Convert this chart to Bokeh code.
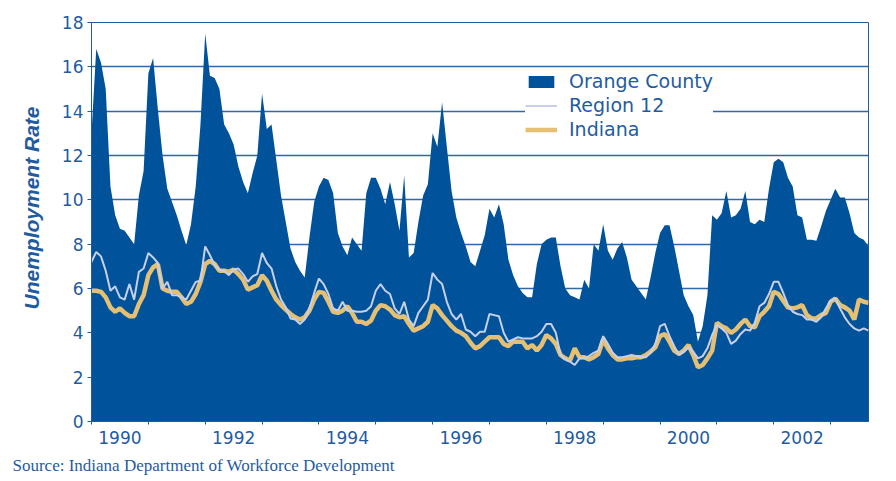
from bokeh.plotting import figure
from bokeh.models import (ColumnDataSource, FixedTicker, Legend, LegendItem, Title)
from bokeh.embed import file_html
from bokeh.resources import INLINE

# ---- data (monthly, Jan 1990 .. Sep 2003) ----
start_year = 1990
orange = [
    13.0, 16.8, 16.2, 15.0, 10.6, 9.3, 8.7, 8.6, 8.3, 8.0, 10.2, 11.3,
    15.7, 16.4, 14.1, 12.0, 10.5, 9.9, 9.3, 8.6, 7.95, 8.9, 10.6, 13.4,
    17.5, 15.6, 15.5, 15.0, 13.4, 13.0, 12.5, 11.5, 10.8, 10.3, 11.2, 12.0,
    14.8, 13.2, 13.4, 11.8, 10.2, 9.0, 7.8, 7.2, 6.8, 6.5, 8.3, 9.9,
    10.6, 11.0, 10.9, 10.3, 8.5, 7.9, 7.5, 8.3, 8.0, 7.7, 10.3, 11.0,
    11.0, 10.5, 9.8, 10.8, 9.8, 8.6, 11.1, 7.4, 7.6, 9.0, 10.2, 10.7,
    13.0, 12.4, 14.4, 12.4, 10.4, 9.2, 8.5, 7.9, 7.2, 7.0, 7.7, 8.4,
    9.6, 9.2, 9.8, 8.9, 7.3, 6.6, 6.1, 5.8, 5.6, 5.6, 7.1, 8.0,
    8.2, 8.3, 8.3, 7.0, 6.0, 5.7, 5.6, 5.5, 6.4, 6.0, 8.0, 7.7,
    8.9, 7.7, 7.3, 7.8, 8.1, 7.4, 6.4, 6.1, 5.8, 5.5, 6.5, 7.6,
    8.5, 8.85, 8.85, 7.9, 6.8, 5.7, 5.2, 4.8, 3.6, 4.3, 5.7, 9.3,
    9.1, 9.4, 10.4, 9.2, 9.3, 9.6, 10.4, 9.0, 8.9, 9.1, 9.0, 10.5,
    11.7, 11.85, 11.7, 11.0, 10.6, 9.3, 9.2, 8.2, 8.2, 8.15, 8.8, 9.5,
    10.0, 10.5, 10.1, 10.1, 9.4, 8.5, 8.3, 8.2, 7.9,
]
region12 = [
    7.2, 7.65, 7.45, 6.8, 5.9, 6.1, 5.6, 5.5, 6.2, 5.5, 6.75, 6.9,
    7.6, 7.4, 7.15, 6.0, 6.3, 5.7, 5.7, 5.6, 5.5, 5.9, 6.3, 6.35,
    7.9, 7.5, 7.05, 6.85, 6.8, 6.6, 6.85, 6.9, 6.65, 6.3, 6.55, 6.65,
    7.6, 7.15, 6.9, 6.1, 5.5, 5.15, 4.65, 4.6, 4.4, 4.6, 5.1, 5.8,
    6.45, 6.2, 5.75, 5.1, 5.0, 5.4, 5.0, 5.0, 4.95, 4.95, 5.0, 5.2,
    5.9, 6.2, 5.9, 5.75, 5.1, 4.85, 5.4, 4.6, 4.3, 4.9, 5.2, 5.5,
    6.7, 6.4, 6.2, 5.4, 4.85, 4.6, 4.85, 4.15, 4.05, 3.85, 4.05, 4.05,
    4.85, 4.8, 4.75, 4.0, 3.6, 3.7, 3.8, 3.75, 3.75, 3.75, 3.85, 4.05,
    4.4, 4.4, 4.0, 3.0, 2.8, 2.7, 2.55, 2.85, 2.85, 2.95, 3.1, 3.2,
    3.85, 3.5, 3.1, 2.9, 2.9, 2.95, 3.0, 2.95, 2.9, 2.9, 3.1, 3.5,
    4.3, 4.4, 3.85, 3.4, 3.0, 3.15, 3.35, 3.15, 2.85, 2.95, 3.3, 3.9,
    4.35, 4.2, 4.0, 3.5, 3.65, 3.95, 4.15, 4.1, 4.45, 5.2, 5.35, 5.75,
    6.3, 6.3, 5.8, 5.25, 4.95, 4.85, 4.8, 4.6, 4.6, 4.5, 4.7, 5.1,
    5.45, 5.55, 5.1, 4.7, 4.4, 4.2, 4.1, 4.2, 4.1,
]
indiana = [
    5.9, 5.9, 5.85, 5.6, 5.15, 4.95, 5.1, 4.9, 4.75, 4.75, 5.3, 5.7,
    6.6, 6.95, 7.1, 6.0, 5.9, 5.85, 5.85, 5.6, 5.3, 5.4, 5.75, 6.3,
    7.1, 7.25, 7.1, 6.8, 6.8, 6.75, 6.85, 6.65, 6.4, 5.95, 6.05, 6.15,
    6.6, 6.35, 5.9, 5.5, 5.25, 5.05, 4.85, 4.7, 4.6, 4.7, 5.0, 5.5,
    5.85, 5.8, 5.4, 4.95, 4.9, 5.0, 5.2, 4.9, 4.5, 4.5, 4.4, 4.55,
    5.0, 5.25, 5.2, 5.05, 4.8, 4.7, 4.75, 4.4, 4.1, 4.2, 4.3, 4.5,
    5.25, 5.1, 4.8, 4.55, 4.3, 4.1, 4.0, 3.85, 3.55, 3.3, 3.4, 3.6,
    3.8, 3.8, 3.8, 3.5, 3.4, 3.6, 3.6, 3.6, 3.3, 3.45, 3.2, 3.45,
    3.9, 3.75, 3.5, 3.0, 2.85, 2.75, 3.3, 2.9, 2.9, 2.8, 2.9, 3.05,
    3.7, 3.3, 3.0, 2.8, 2.8, 2.85, 2.85, 2.9, 2.9, 3.0, 3.15, 3.35,
    3.85, 3.95, 3.6, 3.2, 3.05, 3.2, 3.45, 3.0, 2.45, 2.55, 2.85, 3.2,
    4.45, 4.3, 4.2, 4.0, 4.15, 4.4, 4.6, 4.3, 4.25, 4.75, 4.95, 5.2,
    5.85, 5.75, 5.45, 5.15, 5.1, 5.15, 5.25, 4.8, 4.65, 4.65, 4.8, 4.9,
    5.4, 5.55, 5.25, 5.15, 5.0, 4.6, 5.5, 5.4, 5.35,
]
year_ticks = list(range(1990, 2004))
label_years = [1990, 1992, 1994, 1996, 1998, 2000, 2002]
y_ticks = [0, 2, 4, 6, 8, 10, 12, 14, 16, 18]

BLUE = "#00539b"
TEXT = "#1f5c9f"
GRID = "#2f68a6"
REGION = "#c8cfe9"
GOLD = "#e5c072"

x = [start_year + i / 12 for i in range(len(orange))]
src = ColumnDataSource(dict(x=x, orange=orange, region=region12, indiana=indiana))

p = figure(width=896, height=481, output_backend="svg", toolbar_location=None,
           x_range=(x[0], x[-1]), y_range=(0, 18),
           min_border_left=91, min_border_right=28, min_border_top=22,
           min_border_bottom=59)
p.background_fill_color = "white"
p.border_fill_color = "white"
p.outline_line_color = TEXT
p.outline_line_width = 1

area = p.varea(x="x", y1=0, y2="orange", source=src, fill_color=BLUE)
ind = p.line(x="x", y="indiana", source=src, line_color=GOLD, line_width=4.5)
reg = p.line(x="x", y="region", source=src, line_color=REGION, line_width=2)

# axes
p.xgrid.visible = False
p.ygrid.ticker = FixedTicker(ticks=y_ticks)
p.ygrid.grid_line_color = GRID
p.ygrid.grid_line_width = 1.3

xa = p.xaxis[0]
xa.ticker = FixedTicker(ticks=[yv + 0.5 for yv in label_years], minor_ticks=year_ticks)
xa.major_label_overrides = {yv + 0.5: str(yv) for yv in label_years}
xa.major_tick_out = 0
xa.major_tick_in = 0
xa.minor_tick_out = 3
xa.minor_tick_in = 0
xa.minor_tick_line_color = TEXT
xa.axis_line_color = TEXT
xa.major_label_text_font = "DejaVu Sans"
xa.major_label_text_font_size = "17px"
xa.major_label_text_color = TEXT
xa.major_label_standoff = 6

ya = p.yaxis[0]
ya.ticker = FixedTicker(ticks=y_ticks)
ya.major_tick_out = 4
ya.major_tick_in = 0
ya.minor_tick_line_color = None
ya.major_tick_line_color = TEXT
ya.axis_line_color = TEXT
ya.major_label_text_font = "DejaVu Sans"
ya.major_label_text_font_size = "17px"
ya.major_label_text_color = TEXT
ya.major_label_standoff = 4

ytitle = Title(text="Unemployment Rate", align="left", offset=112, standoff=32,
               text_font="Liberation Sans", text_font_style="bold italic",
               text_font_size="21px", text_color=TEXT)
p.add_layout(ytitle, "left")

legend = Legend(items=[
    LegendItem(label="Orange County", renderers=[area]),
    LegendItem(label="Region 12", renderers=[reg]),
    LegendItem(label="Indiana", renderers=[ind]),
], location=(434, 280))
legend.label_text_font = "DejaVu Sans"
legend.label_text_font_size = "19px"
legend.label_text_color = TEXT
legend.label_height = 24
legend.glyph_height = 15
legend.glyph_width = 32
legend.label_standoff = 12
legend.spacing = 0
legend.padding = 4
legend.margin = 0
legend.border_line_color = None
legend.background_fill_color = "white"
legend.background_fill_alpha = 1
p.add_layout(legend)

source_title = Title(text="Source: Indiana Department of Workforce Development",
                     align="left", offset=-79, standoff=14,
                     text_font="Liberation Serif", text_font_style="normal",
                     text_font_size="17px", text_color=TEXT)
p.add_layout(source_title, "below")

open("out.html", "w").write(file_html(p, INLINE))
